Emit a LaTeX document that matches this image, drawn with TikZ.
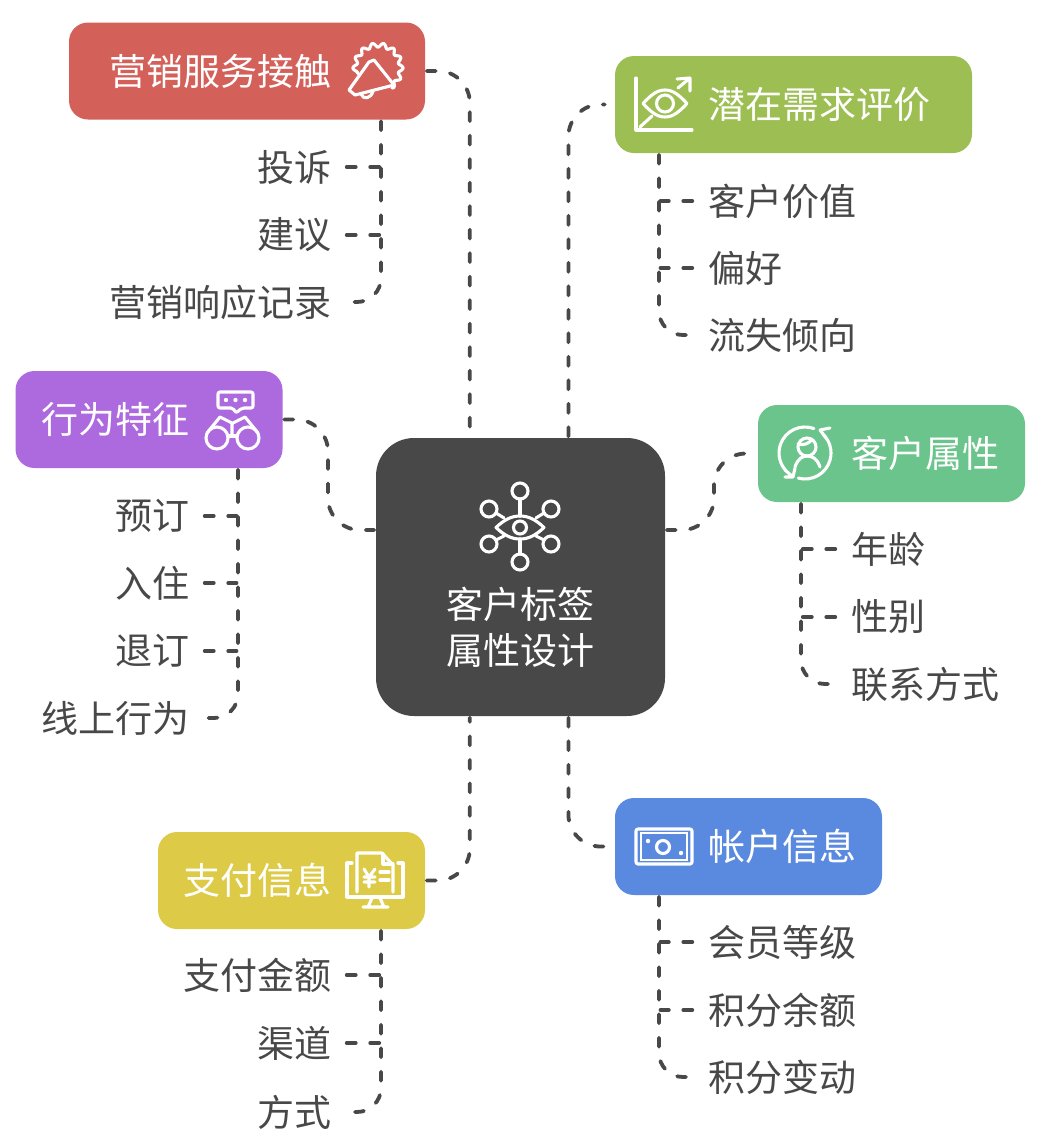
\documentclass[tikz,border=0pt]{standalone}
\usepackage{fontspec}
\setmainfont{Noto Sans CJK SC}
\definecolor{cdark}{HTML}{484848}
\definecolor{cred}{HTML}{D4605A}
\definecolor{colive}{HTML}{9DBE52}
\definecolor{cpurple}{HTML}{AD69DE}
\definecolor{cgreen}{HTML}{6BC48B}
\definecolor{cblue}{HTML}{5A8AE0}
\definecolor{cyellow}{HTML}{DDCA46}
\begin{document}
\begin{tikzpicture}[x=1pt, y=-1pt, font=\fontsize{37}{46}\selectfont]

% Styles
\tikzstyle{rootbox} = [rectangle, rounded corners=38pt, fill=cdark, minimum width=289pt, minimum height=278pt, inner sep=0pt]
\tikzstyle{branch} = [rectangle, rounded corners=19pt, minimum width=267pt, minimum height=97pt, inner sep=0pt]
\tikzstyle{head} = [text=white, align=center, inner sep=0pt]
\tikzstyle{leafl} = [text=cdark, text width=150pt, align=right, inner xsep=14pt, inner ysep=0pt]
\tikzstyle{leafr} = [text=cdark, text width=150pt, align=left, inner xsep=14pt, inner ysep=0pt]
\tikzstyle{link} = [draw=cdark, line width=3.8pt, line cap=round, dash pattern=on 9pt off 14.5pt, shorten <=1.5pt, shorten >=1.5pt]
\tikzstyle{icon} = [draw=white, line width=3.1pt, line cap=round, line join=round]

\useasboundingbox (0,0) rectangle (1042,1146);

% Nodes - Root
\node[rootbox] (root) at (520.5,577) {};
\node[head, below of=root, node distance=50pt] (roottext) {客户标签\\属性设计};

% Nodes - Branches
\node[branch, fill=cred, minimum width=356pt, left of=root, node distance=273.5pt, yshift=506pt] (mkt) {};
\node[branch, fill=colive, minimum width=357pt, right of=root, node distance=273pt, yshift=472.5pt] (need) {};
\node[branch, fill=cpurple, left of=root, node distance=371.5pt, yshift=157.5pt] (act) {};
\node[branch, fill=cgreen, right of=root, node distance=371pt, yshift=123.5pt] (attr) {};
\node[branch, fill=cblue, right of=root, node distance=228pt, yshift=-269.5pt] (acct) {};
\node[branch, fill=cyellow, left of=root, node distance=229pt, yshift=-303.5pt] (pay) {};

\node[head, left of=mkt, node distance=27pt] (mkttext) {营销服务接触};
\node[head, right of=need, node distance=25.5pt] (needtext) {潜在需求评价};
\node[head, left of=act, node distance=34pt] (acttext) {行为特征};
\node[head, right of=attr, node distance=33.5pt] (attrtext) {客户属性};
\node[head, right of=acct, node distance=33.5pt] (accttext) {帐户信息};
\node[head, left of=pay, node distance=34.5pt] (paytext) {支付信息};

% Nodes - Leaves
\node[leafl, text width=224pt, below of=mkt, node distance=96pt, xshift=-28pt] (complain) {投诉};
\node[leafl, text width=224pt, below of=complain, node distance=68pt] (advice) {建议};
\node[leafl, text width=224pt, below of=advice, node distance=67pt] (record) {营销响应记录};

\node[leafr, below of=need, node distance=96.5pt, xshift=-10.5pt] (value) {客户价值};
\node[leafr, below of=value, node distance=67pt] (prefer) {偏好};
\node[leafr, below of=prefer, node distance=67pt] (churn) {流失倾向};

\node[leafl, below of=act, node distance=96.5pt, xshift=-35pt] (book) {预订};
\node[leafl, below of=book, node distance=67pt] (checkin) {入住};
\node[leafl, below of=checkin, node distance=68pt] (cancel) {退订};
\node[leafl, below of=cancel, node distance=67pt] (online) {线上行为};

\node[leafr, below of=attr, node distance=95.5pt, xshift=34.5pt] (age) {年龄};
\node[leafr, below of=age, node distance=68pt] (gender) {性别};
\node[leafr, below of=gender, node distance=67pt] (contact) {联系方式};

\node[leafr, below of=acct, node distance=95.5pt, xshift=34.5pt] (level) {会员等级};
\node[leafr, below of=level, node distance=68pt] (balance) {积分余额};
\node[leafr, below of=balance, node distance=67pt] (change) {积分变动};

\node[leafl, below of=pay, node distance=94.5pt, xshift=-35.5pt] (amount) {支付金额};
\node[leafl, below of=amount, node distance=68pt] (channel) {渠道};
\node[leafl, below of=channel, node distance=69pt] (method) {方式};

% Connections Root
\coordinate (actmid) at (328,419.5);
\coordinate (attrmid) at (714,453.5);
\draw[link, rounded corners=32pt] (mkt.east) -| (root.110);
\draw[link, rounded corners=32pt, shorten >=10pt] (root.71) |- (need.west);
\draw[link, rounded corners=32pt] (act.east) -- (actmid) |- (root.162);
\draw[link, rounded corners=32pt, shorten >=8pt] (root.18) -| (attrmid) -- (attr.west);
\draw[link, rounded corners=32pt, shorten >=10pt] (root.-71) |- (acct.west);
\draw[link, rounded corners=32pt] (pay.east) -| (root.-110);

% Connections Leaves
\coordinate (mkttrunk) at ([xshift=134pt]mkt.south);
\coordinate (needtrunk) at ([xshift=-134.5pt]need.south);
\coordinate (acttrunk) at ([xshift=89pt]act.south);
\coordinate (attrtrunk) at ([xshift=-90.5pt]attr.south);
\coordinate (accttrunk) at ([xshift=-89.5pt]acct.south);
\coordinate (paytrunk) at ([xshift=89.5pt]pay.south);

\draw[link, rounded corners=24pt] (mkttrunk) |- (record.east);
\draw[link] (complain.east) -- (complain.east -| mkttrunk);
\draw[link] (advice.east) -- (advice.east -| mkttrunk);

\draw[link, rounded corners=24pt] (needtrunk) |- (churn.west);
\draw[link] (value.west) -- (value.west -| needtrunk);
\draw[link] (prefer.west) -- (prefer.west -| needtrunk);

\draw[link, rounded corners=24pt] (acttrunk) |- (online.east);
\draw[link] (book.east) -- (book.east -| acttrunk);
\draw[link] (checkin.east) -- (checkin.east -| acttrunk);
\draw[link] (cancel.east) -- (cancel.east -| acttrunk);

\draw[link, rounded corners=24pt] (attrtrunk) |- (contact.west);
\draw[link] (age.west) -- (age.west -| attrtrunk);
\draw[link] (gender.west) -- (gender.west -| attrtrunk);

\draw[link, rounded corners=24pt] (accttrunk) |- (change.west);
\draw[link] (level.west) -- (level.west -| accttrunk);
\draw[link] (balance.west) -- (balance.west -| accttrunk);

\draw[link, rounded corners=24pt] (paytrunk) |- (method.east);
\draw[link] (amount.east) -- (amount.east -| paytrunk);
\draw[link] (channel.east) -- (channel.east -| paytrunk);

% Icon Root
\draw[icon] (520,491) circle[radius=8pt] (489,509) circle[radius=8pt] (551,509) circle[radius=8pt];
\draw[icon] (489,544) circle[radius=8pt] (551,544) circle[radius=8pt] (520,562) circle[radius=8pt];
\draw[icon] (496,527.5) .. controls (504,520) and (511,516) .. (520,516) .. controls (529,516) and (536,520) .. (544,527.5) .. controls (536,535) and (529,539) .. (520,539) .. controls (511,539) and (504,535) .. (496,527.5) -- cycle;
\draw[icon] (520,527.5) circle[radius=6.5pt];
\draw[icon] (520,499) -- (520,516) (520,539) -- (520,554);
\draw[icon] (496,513) -- (504,518) (544,513) -- (536,518) (496,540) -- (504,536) (544,540) -- (536,536);

% Icon Marketing
\draw[icon, smooth] plot[domain=-55:195, samples=71] ({378+(23+2.2*cos(14*\x))*cos(\x)},{68-(23+2.2*cos(14*\x))*sin(\x)});
\draw[icon] (369,62) -- (349,90) -- (355,95) -- (394,85) -- (374,60) -- cycle;
\draw[icon] (361,94) .. controls (363,100) and (371,99) .. (373,91);

% Icon Need
\draw[icon] (636,78) -- (636,130) -- (692,130);
\draw[icon] (640,127) -- (652,116);
\draw[icon] (678,88) -- (690,78) (677,79) -- (690,78) -- (690,91);
\draw[icon] (643,103.5) .. controls (651,95) and (657,90) .. (665,90) .. controls (673,90) and (679,95) .. (687,103.5) .. controls (679,112) and (673,117) .. (665,117) .. controls (657,117) and (651,112) .. (643,103.5) -- cycle;
\draw[icon] (665,103.5) circle[radius=8.5pt];

% Icon Action
\draw[icon, rounded corners=2pt] (233,408) -- (218,408) -- (218,392) -- (253,392) -- (253,408) -- (242,408) -- (236,413) -- cycle;
\fill[white] (226,400) circle[radius=2.2pt] (235.5,400) circle[radius=2.2pt] (245,400) circle[radius=2.2pt];
\draw[icon] (217,438) circle[radius=11pt] (248,438) circle[radius=11pt];
\draw[icon] (207,433) -- (220,417) -- (232,423) -- (232,434) (258,433) -- (245,417) -- (233,423);
\draw[icon] (228,436) -- (237,436);

% Icon Attribute
\draw[icon] (805,453) ++(70:26pt) arc[start angle=70, end angle=223, radius=26pt];
\draw[icon] (805,453) ++(255:26pt) arc[start angle=255, end angle=405, radius=26pt];
\draw[icon] (785,470) -- (793,477) (785,477) -- (793,477) -- (795,468);
\draw[icon] (820,430) -- (830,428) (820,430) -- (826,438);
\draw[icon] (807,447) circle[radius=9pt];
\draw[icon] (798,444) .. controls (804,446) and (810,443) .. (812,439);
\draw[icon] (795,467) .. controls (798,458) and (803,456) .. (807,456) .. controls (812,456) and (817,458) .. (820,467);

% Icon Account
\draw[icon, rounded corners=2pt] (636,829) rectangle (692,864);
\draw[draw=white, line width=1.8pt] (641,833) rectangle (687,860);
\draw[icon] (663,847) circle[radius=6.5pt];
\fill[white] (648,841) circle[radius=2.2pt] (681,853) circle[radius=2.2pt];

% Icon Pay
\draw[icon] (352,863) -- (347,863) -- (347,897) -- (403,897) -- (403,863) -- (398,863);
\draw[icon] (357,892) -- (357,853) -- (382,853) -- (393,865) -- (393,892);
\draw[icon] (383,854) -- (383,864) -- (393,864);
\draw[icon] (372,898) -- (368,907) (380,898) -- (384,907) (363,907) -- (388,907);
\draw[icon] (364,869) -- (369,877) -- (375,869) (369,877) -- (369,887) (364,877) -- (375,877) (364,882) -- (375,882);
\draw[icon] (380,872) -- (389,872) (380,880) -- (389,880);

\end{tikzpicture}
\end{document}
